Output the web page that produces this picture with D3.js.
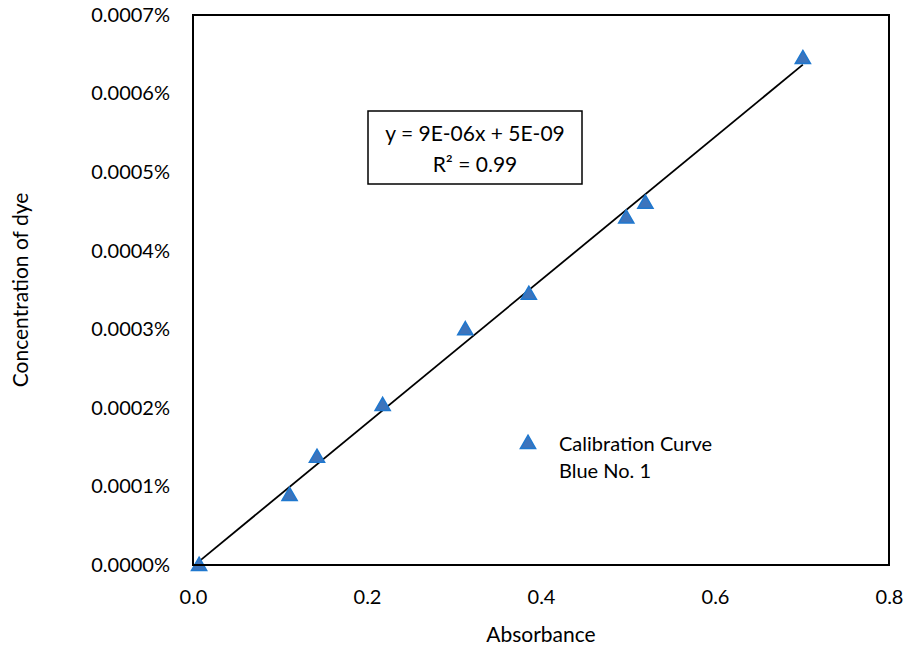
<!DOCTYPE html>
<html>
<head>
<meta charset="utf-8">
<script src="https://cdn.jsdelivr.net/npm/d3@7"></script>
<style>
  body { margin: 0; background: #fff; }
  text { font-family: Lato, "Open Sans", sans-serif; fill: #000; }
</style>
</head>
<body>
<div id="chart"></div>
<script>
// absorbance readings and dye concentration (in %)
var absorbance = [0.007, 0.111, 0.1425, 0.218, 0.313, 0.386, 0.498, 0.520, 0.701];
var concentration = [0.0, 0.000089, 0.0001375, 0.0002036, 0.0003, 0.000345, 0.000442, 0.000461, 0.000645];
var xTicks = [0, 0.2, 0.4, 0.6, 0.8];
var yTicks = [0, 0.0001, 0.0002, 0.0003, 0.0004, 0.0005, 0.0006, 0.0007];
var seriesName = ["Calibration Curve", "Blue No. 1"];
var equationLines = ["y = 9E-06x + 5E-09", "R\u00b2 = 0.99"];

var width = 909, height = 649;
var margin = {top: 15, right: 20, bottom: 84, left: 193};

var svg = d3.select("#chart").append("svg")
    .attr("width", width)
    .attr("height", height);

var x = d3.scaleLinear().domain([0, 0.8]).range([margin.left, width - margin.right]);
var y = d3.scaleLinear().domain([0, 0.0007]).range([height - margin.bottom, margin.top]);

var data = absorbance.map((a, i) => ({x: a, y: concentration[i]}));

// tick labels only, no tick marks
var xAxis = svg.append("g")
    .attr("transform", "translate(0," + (height - margin.bottom) + ")")
    .call(d3.axisBottom(x).tickValues(xTicks).tickFormat(d3.format(".1f")).tickSize(0).tickPadding(25));
var yAxis = svg.append("g")
    .attr("transform", "translate(" + margin.left + ",0)")
    .call(d3.axisLeft(y).tickValues(yTicks).tickFormat(d => d.toFixed(4) + "%").tickSize(0).tickPadding(23));
[xAxis, yAxis].forEach(a => {
    a.select(".domain").remove();
    a.selectAll("text").style("font-size", "20px").style("font-family", "Lato, sans-serif");
});

// least-squares trendline over the data range
var mx = d3.mean(data, d => d.x), my = d3.mean(data, d => d.y);
var slope = d3.sum(data, d => (d.x - mx) * (d.y - my)) / d3.sum(data, d => (d.x - mx) * (d.x - mx));
var icpt = my - slope * mx;
var xExt = d3.extent(absorbance);
svg.append("line")
    .attr("x1", x(xExt[0])).attr("y1", y(slope * xExt[0] + icpt))
    .attr("x2", x(xExt[1])).attr("y2", y(slope * xExt[1] + icpt))
    .attr("stroke", "#000").attr("stroke-width", 1.8);

// markers
var tri = d3.symbol().type(d3.symbolTriangle).size(100);
svg.append("g").selectAll("path")
    .data(data)
    .join("path")
    .attr("d", tri)
    .attr("transform", d => "translate(" + x(d.x) + "," + (y(d.y) + 1) + ")")
    .attr("fill", "#3D74BC")
    .attr("stroke", "#1F78CF")
    .attr("stroke-width", 1.5);

// plot border
svg.append("rect")
    .attr("x", margin.left).attr("y", margin.top)
    .attr("width", width - margin.right - margin.left)
    .attr("height", height - margin.bottom - margin.top)
    .attr("fill", "none").attr("stroke", "#000").attr("stroke-width", 2);

// equation box
svg.append("rect")
    .attr("x", 368).attr("y", 111).attr("width", 214).attr("height", 73)
    .attr("fill", "#fff").attr("stroke", "#000").attr("stroke-width", 1.5);
svg.append("g").selectAll("text")
    .data(equationLines)
    .join("text")
    .attr("x", 475).attr("y", (d, i) => 141 + i * 31)
    .attr("text-anchor", "middle")
    .style("font-size", "21px")
    .text(d => d);

// legend
svg.append("path")
    .attr("d", tri)
    .attr("transform", "translate(528,444)")
    .attr("fill", "#3D74BC").attr("stroke", "#1F78CF").attr("stroke-width", 1.5);
svg.append("g").selectAll("text")
    .data(seriesName)
    .join("text")
    .attr("x", 559).attr("y", (d, i) => 451 + i * 27)
    .style("font-size", "20px")
    .text(d => d);

// axis titles
svg.append("text")
    .attr("x", (margin.left + width - margin.right) / 2).attr("y", 642)
    .attr("text-anchor", "middle")
    .style("font-size", "21px")
    .text("Absorbance");
svg.append("text")
    .attr("transform", "translate(28," + ((margin.top + height - margin.bottom) / 2) + ") rotate(-90)")
    .attr("text-anchor", "middle")
    .style("font-size", "21px")
    .text("Concentration of dye");
</script>
</body>
</html>
